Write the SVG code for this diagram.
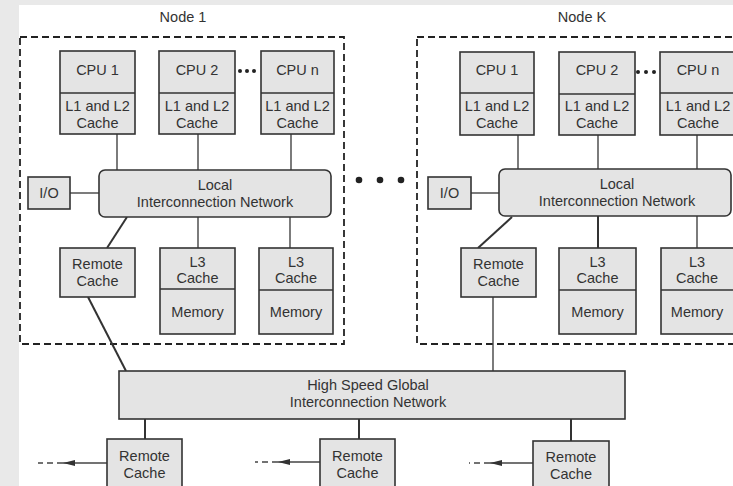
<svg xmlns="http://www.w3.org/2000/svg" width="733" height="486" viewBox="0 0 733 486">
<defs>
<style>
text{font-family:"Liberation Sans",Arial,sans-serif;font-size:14.5px;fill:#333;text-anchor:middle}
.box{fill:#e4e4e4;stroke:#333;stroke-width:1.6}
.div{stroke:#333;stroke-width:1.6;fill:none}
.ln{stroke:#444;stroke-width:1.4;fill:none}
.lnb{stroke:#333;stroke-width:2;fill:none}
.dash{stroke:#222;stroke-width:1.8;fill:none;stroke-dasharray:7,4}
.dsh{stroke:#444;stroke-width:1.3;fill:none;stroke-dasharray:6,4}
.dot{fill:#222}
</style>
<marker id="arr" viewBox="0 0 12 6" refX="12" refY="3" markerWidth="12" markerHeight="6" markerUnits="userSpaceOnUse" orient="auto">
<path d="M0,0 L12,3 L0,6 z" fill="#333"/>
</marker>
</defs>
<rect x="0" y="0" width="733" height="486" fill="#e9e9e9"/>
<rect x="19" y="5" width="714" height="481" fill="#ffffff"/>

<g id="node1-frame">
<rect class="dash" x="20" y="37" width="324" height="307"/>
<text x="183" y="22">Node 1</text>
</g>
<g id="nodeK-frame">
<rect class="dash" x="417" y="37" width="330" height="307"/>
<text x="582" y="22">Node K</text>
</g>

<g id="connectors">
<!-- Node 1 -->
<line class="ln" x1="117" y1="134" x2="117" y2="170"/>
<line class="ln" x1="198" y1="134" x2="198" y2="170"/>
<line class="ln" x1="291" y1="134" x2="291" y2="170"/>
<line class="ln" x1="70" y1="193" x2="99" y2="193"/>
<line class="lnb" x1="127" y1="217" x2="107" y2="248"/>
<line class="ln" x1="198" y1="217" x2="198" y2="248"/>
<line class="ln" x1="290" y1="217" x2="290" y2="248"/>
<line class="lnb" x1="88" y1="297" x2="126" y2="371"/>
<!-- Node K -->
<line class="ln" x1="518" y1="135" x2="518" y2="169"/>
<line class="ln" x1="598" y1="135" x2="598" y2="169"/>
<line class="ln" x1="697" y1="135" x2="697" y2="169"/>
<line class="ln" x1="471" y1="193" x2="499" y2="193"/>
<line class="lnb" x1="512" y1="217" x2="478" y2="248"/>
<line class="lnb" x1="598" y1="216" x2="598" y2="248"/>
<line class="ln" x1="697" y1="216" x2="697" y2="248"/>
<line class="ln" x1="493" y1="297" x2="493" y2="371"/>
<!-- Global to bottom remote caches -->
<line class="lnb" x1="145" y1="419" x2="145" y2="439"/>
<line class="lnb" x1="359" y1="419" x2="359" y2="439"/>
<line class="lnb" x1="571" y1="419" x2="571" y2="441"/>
<!-- outgoing arrows -->
<line class="ln" x1="107" y1="463" x2="63" y2="463" marker-end="url(#arr)"/>
<line class="dsh" x1="63" y1="463" x2="38" y2="463"/>
<line class="ln" x1="320" y1="462" x2="278" y2="462" marker-end="url(#arr)"/>
<line class="dsh" x1="278" y1="462" x2="255" y2="462"/>
<line class="ln" x1="533" y1="463" x2="490" y2="463" marker-end="url(#arr)"/>
<line class="dsh" x1="490" y1="463" x2="469" y2="463"/>
</g>

<!-- Node 1 contents -->
<g id="n1-cpu1">
<rect class="box" x="60" y="51" width="75" height="83"/>
<line class="div" x1="60" y1="93" x2="135" y2="93"/>
<text x="97.5" y="75">CPU 1</text>
<text x="97.5" y="111">L1 and L2</text>
<text x="97.5" y="128">Cache</text>
</g>
<g id="n1-cpu2">
<rect class="box" x="159" y="51" width="76" height="83"/>
<line class="div" x1="159" y1="93" x2="235" y2="93"/>
<text x="197" y="75">CPU 2</text>
<text x="197" y="111">L1 and L2</text>
<text x="197" y="128">Cache</text>
</g>
<g id="n1-dots">
<circle class="dot" cx="240" cy="71" r="2"/>
<circle class="dot" cx="247" cy="71" r="2"/>
<circle class="dot" cx="254" cy="71" r="2"/>
</g>
<g id="n1-cpun">
<rect class="box" x="261" y="51" width="73" height="83"/>
<line class="div" x1="261" y1="93" x2="334" y2="93"/>
<text x="297.5" y="75">CPU n</text>
<text x="297.5" y="111">L1 and L2</text>
<text x="297.5" y="128">Cache</text>
</g>
<g id="n1-io">
<rect class="box" x="28" y="177" width="42" height="32"/>
<text x="49" y="198">I/O</text>
</g>
<g id="n1-local">
<rect class="box" x="99" y="170" width="232" height="47" rx="6"/>
<text x="215" y="190">Local</text>
<text x="215" y="207">Interconnection Network</text>
</g>
<g id="n1-remote">
<rect class="box" x="60" y="248" width="75" height="49"/>
<text x="97.5" y="269">Remote</text>
<text x="97.5" y="286">Cache</text>
</g>
<g id="n1-l3a">
<rect class="box" x="160" y="248" width="75" height="86"/>
<line class="div" x1="160" y1="289" x2="235" y2="289"/>
<text x="197.5" y="267">L3</text>
<text x="197.5" y="283">Cache</text>
<text x="197.5" y="317">Memory</text>
</g>
<g id="n1-l3b">
<rect class="box" x="259" y="248" width="74" height="86"/>
<line class="div" x1="259" y1="290" x2="333" y2="290"/>
<text x="296" y="267">L3</text>
<text x="296" y="283">Cache</text>
<text x="296" y="317">Memory</text>
</g>

<g id="between-dots">
<circle class="dot" cx="359" cy="180" r="3.3"/>
<circle class="dot" cx="380" cy="180" r="3.3"/>
<circle class="dot" cx="401" cy="180" r="3.3"/>
</g>

<!-- Node K contents -->
<g id="nk-cpu1">
<rect class="box" x="460" y="52" width="74" height="83"/>
<line class="div" x1="460" y1="93" x2="534" y2="93"/>
<text x="497" y="75">CPU 1</text>
<text x="497" y="111">L1 and L2</text>
<text x="497" y="128">Cache</text>
</g>
<g id="nk-cpu2">
<rect class="box" x="559" y="52" width="76" height="83"/>
<line class="div" x1="559" y1="94" x2="635" y2="94"/>
<text x="597" y="75">CPU 2</text>
<text x="597" y="111">L1 and L2</text>
<text x="597" y="128">Cache</text>
</g>
<g id="nk-dots">
<circle class="dot" cx="638" cy="72" r="2"/>
<circle class="dot" cx="646" cy="72" r="2"/>
<circle class="dot" cx="654" cy="72" r="2"/>
</g>
<g id="nk-cpun">
<rect class="box" x="660" y="52" width="76" height="83"/>
<line class="div" x1="660" y1="93" x2="736" y2="93"/>
<text x="698" y="75">CPU n</text>
<text x="698" y="111">L1 and L2</text>
<text x="698" y="128">Cache</text>
</g>
<g id="nk-io">
<rect class="box" x="428" y="177" width="43" height="32"/>
<text x="449.5" y="198">I/O</text>
</g>
<g id="nk-local">
<rect class="box" x="499" y="169" width="232" height="47" rx="6"/>
<text x="617" y="189">Local</text>
<text x="617" y="206">Interconnection Network</text>
</g>
<g id="nk-remote">
<rect class="box" x="461" y="248" width="75" height="49"/>
<text x="498.5" y="269">Remote</text>
<text x="498.5" y="286">Cache</text>
</g>
<g id="nk-l3a">
<rect class="box" x="559" y="248" width="77" height="86"/>
<line class="div" x1="559" y1="290" x2="636" y2="290"/>
<text x="597.5" y="267">L3</text>
<text x="597.5" y="283">Cache</text>
<text x="597.5" y="317">Memory</text>
</g>
<g id="nk-l3b">
<rect class="box" x="661" y="248" width="76" height="86"/>
<line class="div" x1="661" y1="290" x2="737" y2="290"/>
<text x="697" y="267">L3</text>
<text x="697" y="283">Cache</text>
<text x="697" y="317">Memory</text>
</g>

<g id="global">
<rect class="box" x="119" y="371" width="506" height="48"/>
<text x="368" y="390">High Speed Global</text>
<text x="368" y="407">Interconnection Network</text>
</g>

<g id="rc-bottom-1">
<rect class="box" x="107" y="439" width="75" height="60"/>
<text x="144.5" y="461">Remote</text>
<text x="144.5" y="478">Cache</text>
</g>
<g id="rc-bottom-2">
<rect class="box" x="320" y="439" width="75" height="60"/>
<text x="357.5" y="461">Remote</text>
<text x="357.5" y="478">Cache</text>
</g>
<g id="rc-bottom-3">
<rect class="box" x="533" y="441" width="76" height="60"/>
<text x="571" y="462">Remote</text>
<text x="571" y="479">Cache</text>
</g>
</svg>
